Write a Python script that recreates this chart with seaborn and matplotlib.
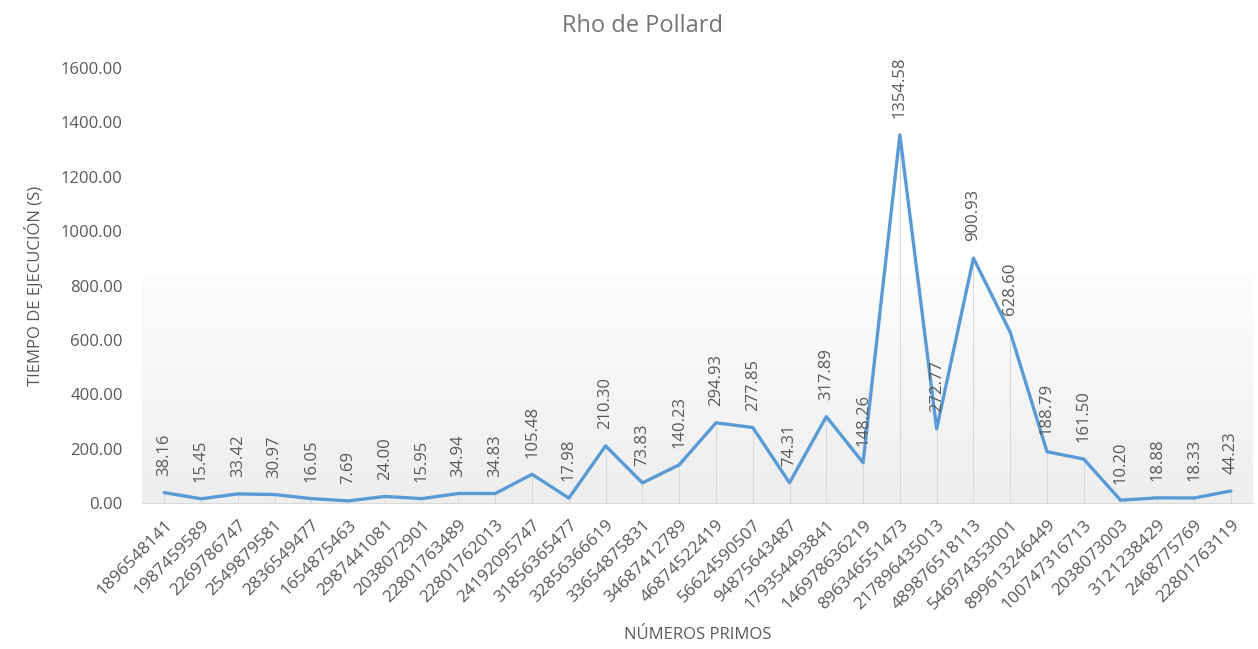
import numpy as np
import pandas as pd
import matplotlib
matplotlib.use("Agg")
import matplotlib.pyplot as plt
import seaborn as sns

# datos
primos = ["1896548141", "1987459589", "2269786747", "2549879581", "2836549477",
          "1654875463", "2987441081", "2038072901", "22801763489", "22801762013",
          "24192095747", "31856365477", "32856366619", "33654875831", "34687412789",
          "46874522419", "56624590507", "94875643487", "179354493841", "146978636219",
          "896346551473", "217896435013", "489876518113", "546974353001", "899613246449",
          "100747316713", "2038073003", "3121238429", "2468775769", "22801763119"]
tiempos = [38.16, 15.45, 33.42, 30.97, 16.05, 7.69, 24.00, 15.95, 34.94, 34.83,
           105.48, 17.98, 210.30, 73.83, 140.23, 294.93, 277.85, 74.31, 317.89, 148.26,
           1354.58, 272.77, 900.93, 628.60, 188.79, 161.50, 10.20, 18.88, 18.33, 44.23]

df = pd.DataFrame({"pos": np.arange(len(primos)), "primo": primos, "tiempo": tiempos})

sns.set_style("white")
plt.rcParams['font.family'] = ['Open Sans', 'DejaVu Sans']
gris = "#595959"

fig, ax = plt.subplots(figsize=(12.58, 6.49), dpi=100)
fig.subplots_adjust(left=0.113, right=0.996, top=0.895, bottom=0.225)

# fondo degradado en la parte baja del area (blanco arriba, gris abajo)
grad = np.linspace(0, 1, 256).reshape(-1, 1)
ax.imshow(grad, extent=[0, 1, 0, 0.52], transform=ax.transAxes, aspect='auto',
          cmap=matplotlib.colors.LinearSegmentedColormap.from_list("g", ["#fdfdfd", "#eeeeee"]),
          zorder=0)

# lineas de caida
ax.vlines(df["pos"], 0, df["tiempo"], color="#d9d9d9", lw=0.7, zorder=1)

sns.lineplot(data=df, x="pos", y="tiempo", ax=ax, color="#5b9bd5", lw=2.4, zorder=3)

# etiquetas de datos
for x, y in zip(df["pos"], df["tiempo"]):
    ax.annotate(f"{y:.2f}", (x, y), xytext=(0, 12), textcoords="offset points",
                rotation=90, ha="center", va="bottom", fontsize=12, color=gris, zorder=4)

ax.set_xlim(-0.6, len(primos) - 0.4)
ax.set_ylim(0, 1600)
ax.set_yticks(np.arange(0, 1601, 200))
ax.set_yticklabels([f"{v:.2f}" for v in np.arange(0, 1601, 200)])
ax.set_xticks(df["pos"])
ax.set_xticklabels(primos, rotation=45, ha="right", rotation_mode="anchor")
ax.tick_params(axis="x", labelsize=12.5, labelcolor=gris, length=0, pad=10)
ax.tick_params(axis="y", labelsize=12, labelcolor=gris, length=0, pad=14)

for s in ["top", "right", "left"]:
    ax.spines[s].set_visible(False)
ax.spines["bottom"].set_color("#d9d9d9")

fig.text(643 / 1258, 0.96, "Rho de Pollard", fontsize=17, color="#757575",
         ha="center", va="center")
ax.set_xlabel("NÚMEROS PRIMOS", fontsize=12, color=gris, labelpad=10)
ax.set_ylabel("TIEMPO DE EJECUCIÓN (S)", fontsize=12, color=gris, labelpad=12)

fig.savefig("out.png", dpi=100)
